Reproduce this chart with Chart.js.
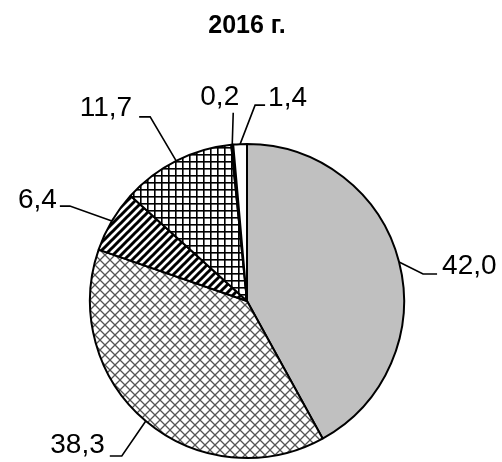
<!DOCTYPE html>
<html>
<head>
<meta charset="utf-8">
<script src="https://cdn.jsdelivr.net/npm/chart.js@4/dist/chart.umd.min.js"></script>
<style>
  html, body { margin: 0; padding: 0; background: #ffffff; }
  #wrap { width: 502px; height: 462px; }
</style>
</head>
<body>
<div id="wrap"><canvas id="c" width="502" height="462"></canvas></div>
<script>
const title = '2016 г.';
const categories = ['1', '2', '3', '4', '5', '6'];
const values = [42.0, 38.3, 6.4, 11.7, 0.2, 1.4];
const valueLabels = values.map(v => v.toFixed(1).replace('.', ','));

function makePattern(size, draw) {
  const t = document.createElement('canvas');
  t.width = size; t.height = size;
  const g = t.getContext('2d');
  g.fillStyle = '#ffffff';
  g.fillRect(0, 0, size, size);
  draw(g, size);
  return g.createPattern(t, 'repeat');
}

const diamond = makePattern(10, (g, s) => {
  g.strokeStyle = '#555555';
  g.lineWidth = 1.3;
  g.beginPath();
  g.moveTo(-1, -1); g.lineTo(s + 1, s + 1);
  g.moveTo(s + 1, -1); g.lineTo(-1, s + 1);
  g.stroke();
});
const grid = makePattern(7, (g, s) => {
  g.fillStyle = '#000000';
  g.fillRect(0, 0, s, 1.6);
  g.fillRect(0, 0, 1.6, s);
});
const stripes = makePattern(8, (g, s) => {
  g.strokeStyle = '#000000';
  g.lineWidth = 3;
  g.beginPath();
  g.moveTo(-2, s + 2); g.lineTo(s + 2, -2);
  g.moveTo(-2, 2); g.lineTo(2, -2);
  g.moveTo(s - 2, s + 2); g.lineTo(s + 2, s - 2);
  g.stroke();
});

const fills = ['#c0c0c0', diamond, stripes, grid, '#000000', '#ffffff'];

// leader-line styling per slice: elbow offset from slice edge, horizontal run, text offset
const leaders = [
  { dx: 24, dy: 12, hx: 14, tx: 5, ty: -8, align: 'left' },
  { dx: -24, dy: 35, hx: -12, tx: -5, ty: -11, align: 'right' },
  { dx: -42, dy: -15, hx: -10, tx: -3, ty: -6, align: 'right' },
  { dx: -26, dy: -44, hx: -11, tx: -7, ty: -9, align: 'right' },
  { dx: 1, dy: -32, hx: 0, tx: 6, ty: -15, align: 'right' },
  { dx: 15, dy: -39, hx: 10, tx: 3, ty: -7, align: 'left' }
];

const labelPlugin = {
  id: 'leaderLabels',
  afterDatasetsDraw(chart) {
    const ctx = chart.ctx;
    const meta = chart.getDatasetMeta(0);
    ctx.save();
    ctx.strokeStyle = '#000000';
    ctx.lineWidth = 1.6;
    ctx.fillStyle = '#000000';
    ctx.font = '28px "Liberation Sans", Arial, sans-serif';
    ctx.textBaseline = 'middle';
    meta.data.forEach((arc, i) => {
      const p = arc.getProps(['x', 'y', 'startAngle', 'endAngle', 'outerRadius'], true);
      const mid = (p.startAngle + p.endAngle) / 2;
      const ex = p.x + Math.cos(mid) * p.outerRadius;
      const ey = p.y + Math.sin(mid) * p.outerRadius;
      const L = leaders[i];
      const bx = ex + L.dx, by = ey + L.dy;
      const hx = bx + L.hx;
      ctx.beginPath();
      ctx.moveTo(ex, ey);
      ctx.lineTo(bx, by);
      if (L.hx !== 0) ctx.lineTo(hx, by);
      ctx.stroke();
      ctx.textAlign = L.align;
      ctx.fillText(valueLabels[i], hx + L.tx, by + L.ty);
    });
    ctx.restore();
  }
};

new Chart(document.getElementById('c'), {
  type: 'pie',
  data: {
    labels: categories,
    datasets: [{
      data: values,
      backgroundColor: fills,
      borderColor: '#000000',
      borderWidth: 2
    }]
  },
  options: {
    responsive: false,
    devicePixelRatio: 1,
    animation: false,
    layout: { padding: { left: 89, right: 97, top: 0, bottom: 3 } },
    plugins: {
      legend: { display: false },
      tooltip: { enabled: false },
      title: {
        display: true,
        text: title,
        color: '#000000',
        font: { family: '"Liberation Sans", Arial, sans-serif', size: 25, weight: 'bold', lineHeight: 1.2 },
        padding: { top: 11, bottom: 102 }
      }
    }
  },
  plugins: [labelPlugin]
});
</script>
</body>
</html>
